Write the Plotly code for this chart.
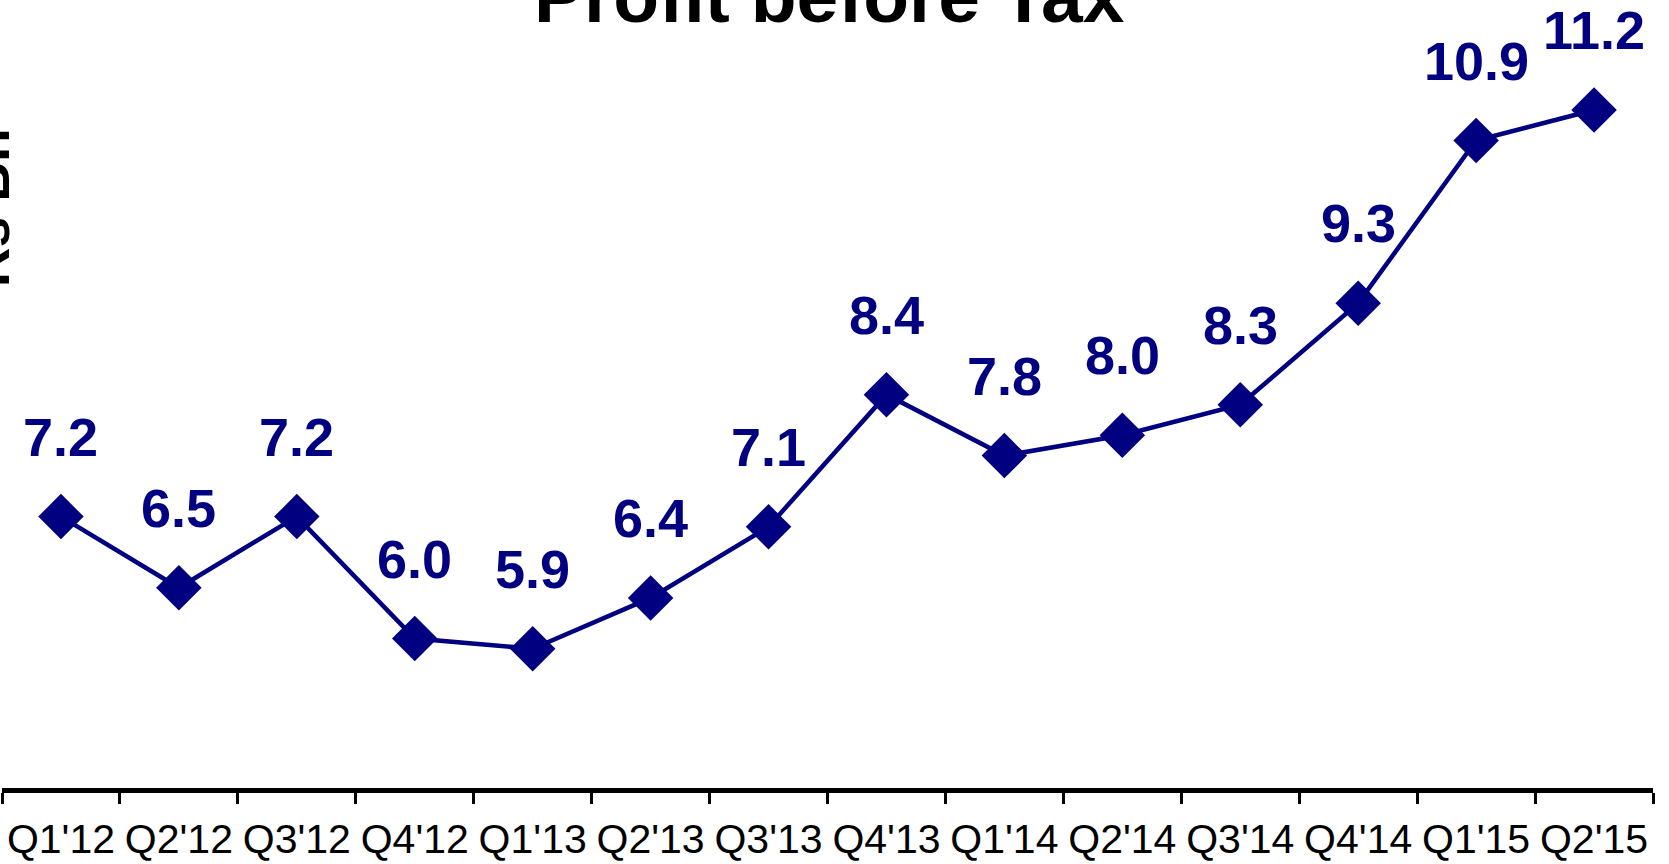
import plotly.graph_objects as go

quarters = ["Q1'12", "Q2'12", "Q3'12", "Q4'12", "Q1'13", "Q2'13", "Q3'13",
            "Q4'13", "Q1'14", "Q2'14", "Q3'14", "Q4'14", "Q1'15", "Q2'15"]
pbt = [7.2, 6.5, 7.2, 6.0, 5.9, 6.4, 7.1, 8.4, 7.8, 8.0, 8.3, 9.3, 10.9, 11.2]
labels = ["7.2", "6.5", "7.2", "6.0", "5.9", "6.4", "7.1", "8.4", "7.8", "8.0",
          "8.3", "9.3", "10.9", "11.2"]

NAVY = "#000080"
FONT = "Liberation Sans, Arial, sans-serif"

fig = go.Figure()
fig.add_trace(go.Scatter(
    x=quarters, y=pbt, mode="lines+markers",
    line=dict(color=NAVY, width=4.5),
    marker=dict(symbol="diamond", size=35, color=NAVY),
    cliponaxis=False, hoverinfo="skip",
))

for q, v, t in zip(quarters, pbt, labels):
    fig.add_annotation(x=q, y=v, text=t, showarrow=False, yshift=80,
                       xanchor="center", yanchor="middle",
                       font=dict(family=FONT, size=54, color=NAVY, weight="bold"))

fig.add_annotation(xref="paper", yref="paper", x=0.5015, y=1, yanchor="bottom",
                   xanchor="center", text="Profit before Tax", showarrow=False,
                   yshift=0,
                   font=dict(family=FONT, size=75, color="black", weight="bold"))

fig.add_annotation(xref="paper", yref="paper", x=0, y=0.775, xanchor="right",
                   yanchor="middle", xshift=21, textangle=-90, text="Rs Bn",
                   showarrow=False,
                   font=dict(family=FONT, size=55, color="black", weight="bold"))

fig.update_xaxes(
    type="category", range=[-0.5, 13.5], showgrid=False, zeroline=False,
    showline=True, linecolor="black", linewidth=5,
    ticks="outside", tickson="boundaries", ticklen=11, tickwidth=3, tickcolor="black",
    tickfont=dict(family=FONT, size=41, color="black"), tickangle=0,
    ticklabelstandoff=11,
)
fig.update_yaxes(range=[4.53, 11.889], visible=False, showgrid=False, zeroline=False)

fig.update_layout(
    width=1669, height=864,
    margin=dict(l=2, r=16, t=40, b=76, autoexpand=False),
    plot_bgcolor="white", paper_bgcolor="white",
    showlegend=False,
)

fig.write_html("out.html")
